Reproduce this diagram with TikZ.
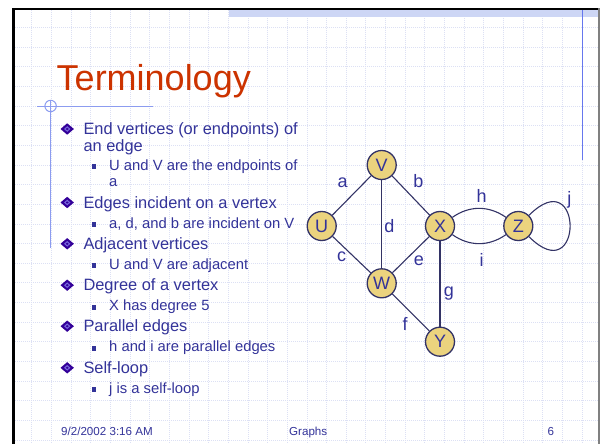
\documentclass[tikz,border=0pt]{standalone}
\usepackage{fontspec}
\setmainfont{Liberation Sans}
\definecolor{txt}{HTML}{333399}
\definecolor{ttl}{HTML}{CC3300}
\definecolor{nodefill}{HTML}{EBD37E}
\definecolor{navy}{HTML}{333366}
\definecolor{gridc}{HTML}{DCE0F4}
\definecolor{deco}{HTML}{8C9CF0}
\definecolor{decoline}{HTML}{6677EE}
\definecolor{band}{HTML}{CDD6F5}
\definecolor{bulletc}{HTML}{330099}
\definecolor{bulletl}{HTML}{7766DD}
\begin{document}
\begin{tikzpicture}[x=1pt,y=-1pt,
  vtx/.style={circle,draw=navy,fill=nodefill,line width=1.3pt,minimum size=29pt,inner sep=0pt,font=\fontsize{18}{20}\selectfont,text=txt},
  link/.style={draw=navy,line width=1.1pt},
  elabel/.style={anchor=base,inner sep=0pt,font=\fontsize{18}{20}\selectfont,text=txt},
  lvlone/.style={anchor=base west,inner sep=0pt,font=\fontsize{16.4}{18}\selectfont,text=txt},
  lvltwo/.style={anchor=base west,inner sep=0pt,font=\fontsize{14.8}{17}\selectfont,text=txt},
  foot/.style={anchor=base west,inner sep=0pt,font=\fontsize{11.6}{13}\selectfont,text=txt},
  gridline/.style={draw=gridc,line width=0.6pt,dash pattern=on 1pt off 1pt}
]
\useasboundingbox (0,0) rectangle (600,444);
\fill[white] (0,0) rectangle (600,444);
% grid
\foreach \i in {0,...,28} {
  \draw[gridline] ({31.7+19.65*\i},10) -- ({31.7+19.65*\i},444);
}
\foreach \j in {1,...,22} {
  \draw[gridline] (15,{7.65+19.65*\j}) -- (598,{7.65+19.65*\j});
}
% top band
\fill[band] (228.5,10) rectangle (598,17.3);
% borders
\fill[black] (12,8) rectangle (600,10);
\fill[black] (12,8) rectangle (15,444);
\fill[gray] (598,8) rectangle (600,444);
% right decoration line
\draw[decoline,line width=1.2pt] (582.5,10) -- (582.5,160);
% left decoration
\draw[deco,line width=1pt] (37,106) -- (153,106);
\draw[deco,line width=1pt] (50.6,100) -- (50.6,248);
\draw[deco,line width=1pt] (50.6,106) circle (5.7);
% title
\node[anchor=base west,inner sep=0pt,text=ttl,font=\fontsize{36}{40}\selectfont] (title) at (56.5,90.7) {Terminology};
% level-1 bullets
\foreach \b in {134.5,208,249.3,290.7,331.7,373.3} {
  \fill[bulletc] (60.5,\b-5.5) -- (67.2,\b-11.2) -- (73.9,\b-5.5) -- (67.2,\b+0.2) -- cycle;
  \fill[bulletl] (64,\b-5.5) -- (67.2,\b-8.3) -- (70.4,\b-5.5) -- (67.2,\b-2.7) -- cycle;
  \fill[bulletc] (65.8,\b-5.5) -- (67.2,\b-6.7) -- (68.6,\b-5.5) -- (67.2,\b-4.3) -- cycle;
}
% level-2 bullets
\foreach \b in {170,228,269.3,310.7,351.7,393.3} {
  \fill[txt] (91.5,\b-6) rectangle (96.3,\b-1.2);
}
\node[lvlone] (t1) at (83.3,134.5) {End vertices (or endpoints) of};
\node[lvlone] (t1b) at (83.3,151.7) {an edge};
\node[lvltwo] (t2) at (109,170) {U and V are the endpoints of};
\node[lvltwo] (t2b) at (109,186) {a};
\node[lvlone] (t3) at (83.3,208) {Edges incident on a vertex};
\node[lvltwo] (t4) at (109,228) {a, d, and b are incident on V};
\node[lvlone] (t5) at (83.3,249.3) {Adjacent vertices};
\node[lvltwo] (t6) at (109,269.3) {U and V are adjacent};
\node[lvlone] (t7) at (83.3,290.7) {Degree of a vertex};
\node[lvltwo] (t8) at (109,310.7) {X has degree 5};
\node[lvlone] (t9) at (83.3,331.7) {Parallel edges};
\node[lvltwo] (t10) at (109,351.7) {h and i are parallel edges};
\node[lvlone] (t11) at (83.3,373.3) {Self-loop};
\node[lvltwo] (t12) at (109,393.3) {j is a self-loop};
% footer
\node[foot] (fdate) at (61,435) {9/2/2002 3:16 AM};
\node[foot] (fgraph) at (289,435) {Graphs};
\node[foot] (fnum) at (547.5,435) {6};
% graph
\node[vtx] (V) at (381.7,165) {V};
\node[vtx] (U) at (321.7,226) {U};
\node[vtx] (X) at (440,226) {X};
\node[vtx] (Z) at (518.3,226) {Z};
\node[vtx] (W) at (381.7,283.3) {W};
\node[vtx] (Y) at (440,341.7) {Y};
\path[link] (U) -- (V);
\path[link] (V) -- (X);
\path[link] (V) -- (W);
\path[link] (U) -- (W);
\path[link] (X) -- (W);
\path[link] (W) -- (Y);
\path[link] (X) -- (Y);
\path[link] (X) to[out=35,in=145] (Z);
\path[link] (X) to[out=-35,in=-145] (Z);
\path[link] (Z) to[out=45,in=-45,distance=77.5pt] (Z);
% edge labels
\node[elabel] (la) at (342.7,187.7) {a};
\node[elabel] (lb) at (418.3,187.7) {b};
\node[elabel] (ld) at (389.3,232.7) {d};
\node[elabel] (lc) at (341.7,261.7) {c};
\node[elabel] (le) at (419,265) {e};
\node[elabel] (lf) at (405,330.7) {f};
\node[elabel] (lg) at (449,296.7) {g};
\node[elabel] (lh) at (481.7,202.7) {h};
\node[elabel] (li) at (481.7,266) {i};
\node[elabel] (lj) at (569.3,204) {j};
\end{tikzpicture}
\end{document}
